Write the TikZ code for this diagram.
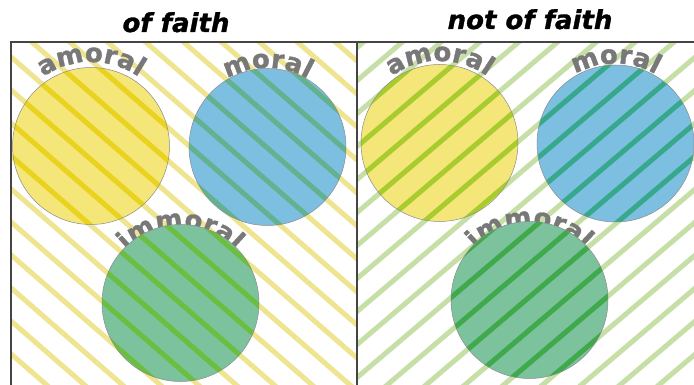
\documentclass[tikz,border=0pt]{standalone}
\usepackage{fontspec}
\usetikzlibrary{decorations.text}
\newfontfamily\titlefam{DejaVu Sans}[BoldFont={* Bold},ItalicFont={* Oblique},BoldItalicFont={* Bold Oblique},BoldItalicFeatures={FakeBold=1.2}]
\newfontfamily\lblfam{DejaVu Sans}[BoldFont={* Bold},BoldFeatures={FakeBold=1.2}]
\newcommand\lblfont{\lblfam\bfseries\fontsize{26}{26}\selectfont}
\newcommand\ttlfont{\titlefam\bfseries\itshape\fontsize{26}{26}\selectfont}
\definecolor{lblgray}{HTML}{787878}
\definecolor{frameC}{HTML}{444444}
\definecolor{cY}{HTML}{F4E679}
\definecolor{cB}{HTML}{7DBFE0}
\definecolor{cG}{HTML}{7CC29D}
% left panel stripes
\definecolor{lW}{HTML}{EFE48F}
\definecolor{lY}{HTML}{E9D31E}
\definecolor{lB}{HTML}{62B290}
\definecolor{lG}{HTML}{6BBE3F}
% right panel stripes
\definecolor{rW}{HTML}{C6DFA6}
\definecolor{rY}{HTML}{A8CB2E}
\definecolor{rB}{HTML}{37A88C}
\definecolor{rG}{HTML}{3FA94B}
\tikzset{
  stripeline/.style={line width=5pt},
  circedge/.style={draw=black!45,line width=0.5pt},
  frameline/.style={draw=frameC,line width=1.2pt},
}
\newcommand\leftlines[1]{\foreach \k in {-16,...,4} \draw[stripeline,#1] (0,{-(245.4+33*\k)}) -- (360,{-(558.6+33*\k)});}
\newcommand\rightlines[1]{\foreach \k in {-7,...,13} \draw[stripeline,#1] (355,{-(247.25+33*\k)}) -- (700,{-(-46+33*\k)});}
\newcommand\stripedcirc[6]{%
  \fill[#3] (#1,-#2) circle[radius=78.5];
  \begin{scope}\clip (#1,-#2) circle[radius=78.5]; #5{#4}\end{scope}
  \node[circle,minimum size=157pt,inner sep=0pt,circedge] (#6) at (#1,-#2) {};
}
% center x, center y, baseline radius, text
\newcommand\arclabel[4]{%
  \path[decorate,decoration={text along path,text={|\lblfont\color{lblgray}|#4},text align=center}]
    ({#1-#3},-#2) arc[start angle=180,end angle=0,radius=#3];
}
\begin{document}
\begin{tikzpicture}[x=1pt,y=1pt]
\useasboundingbox (0,0) rectangle (694,-385);
\fill[white] (0,0) rectangle (694,-385);
% left panel background stripes
\begin{scope}
  \clip (11,-42) rectangle (357,-385);
  \leftlines{lW}
\end{scope}
% right panel background stripes
\begin{scope}
  \clip (357,-42) rectangle (694,-385);
  \rightlines{rW}
\end{scope}
% labels (partly hidden by the circles)
\arclabel{91}{146}{84}{amoral}
\arclabel{267.5}{147}{79}{moral}
\arclabel{180.5}{303}{75}{immoral}
\arclabel{439.5}{143}{82}{amoral}
\arclabel{615.5}{143.5}{80}{moral}
\arclabel{529.5}{300}{74}{immoral}
% circles
\stripedcirc{91}{146}{cY}{lY}{\leftlines}{lyc}
\stripedcirc{267.5}{147}{cB}{lB}{\leftlines}{lbc}
\stripedcirc{180.5}{303}{cG}{lG}{\leftlines}{lgc}
\stripedcirc{439.5}{143}{cY}{rY}{\rightlines}{ryc}
\stripedcirc{615.5}{143.5}{cB}{rB}{\rightlines}{rbc}
\stripedcirc{529.5}{300}{cG}{rG}{\rightlines}{rgc}
% frame
\draw[frameline] (11,-385) -- (11,-42) -- (694,-42);
\draw[frameline] (357,-42) -- (357,-385);
% titles
\node[anchor=base,inner sep=0pt] (t1) at (176,-32) {\ttlfont of faith};
\node[anchor=base,inner sep=0pt] (t2) at (530,-29) {\ttlfont not of faith};
\end{tikzpicture}
\end{document}
